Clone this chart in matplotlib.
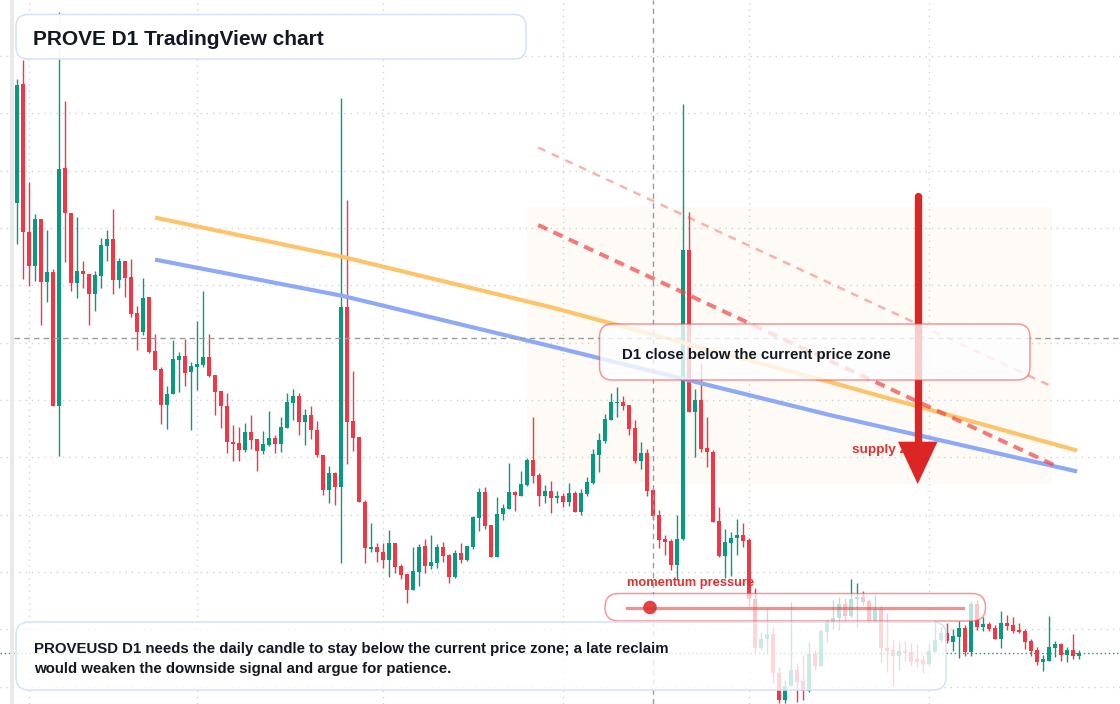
import numpy as np
import matplotlib
matplotlib.use('Agg')
import matplotlib.pyplot as plt
from matplotlib.patches import FancyBboxPatch, Rectangle, Polygon, Circle

plt.rcParams['font.family'] = ['Liberation Sans', 'DejaVu Sans']

# daily candles (PROVEUSD D1)
opens = [
    1.1967, 1.316, 1.1677, 1.1343, 1.181, 1.1183, 1.1277, 0.9943, 1.232, 1.1867,
    1.1167, 1.129, 1.1257, 1.1063, 1.1243, 1.1543, 1.161, 1.1203, 1.139, 1.123,
    1.087, 1.0683, 1.103, 1.049, 1.031, 0.995, 1.0057, 1.04, 1.044, 1.0279,
    1.0331, 1.0348, 1.0427, 1.0252, 1.0087, 0.9935, 0.9581, 0.9568, 0.9499, 0.9678,
    0.9609, 0.9489, 0.9551, 0.9619, 0.9557, 0.9722, 0.997, 1.0038, 0.9781, 0.9846,
    0.9695, 0.9454, 0.9104, 0.9265, 0.9128, 1.0925, 0.9788, 0.9626, 0.8984, 0.8513,
    0.8527, 0.8477, 0.8403, 0.857, 0.834, 0.826, 0.81, 0.8283, 0.854, 0.8343,
    0.837, 0.853, 0.845, 0.8233, 0.847, 0.8403, 0.853, 0.8823, 0.908, 0.875,
    0.8433, 0.8857, 0.8913, 0.908, 0.9043, 0.915, 0.94, 0.925, 0.9043, 0.909,
    0.9017, 0.9043, 0.8983, 0.9067, 0.8877, 0.906, 0.9167, 0.945, 0.959, 0.98,
    0.9967, 0.9983, 0.995, 0.9717, 0.9393, 0.9473, 0.91, 0.885, 0.8607, 0.859,
    0.835, 0.8607, 1.15, 0.9883, 1.0, 0.9517, 0.9477, 0.879, 0.8443, 0.8573,
    0.8617, 0.865, 0.86, 0.801, 0.7517, 0.7607, 0.766, 0.7267, 0.7, 0.714,
    0.73, 0.719, 0.709, 0.746, 0.7343, 0.7677, 0.7783, 0.7817, 0.796, 0.784,
    0.8007, 0.8033, 0.7993, 0.779, 0.791, 0.7517, 0.75, 0.744, 0.7493, 0.7477,
    0.741, 0.74, 0.7357, 0.7483, 0.76, 0.7673, 0.7583, 0.7633, 0.772, 0.7477,
    0.796, 0.7733, 0.776, 0.7717, 0.761, 0.7773, 0.775, 0.77, 0.769, 0.759,
    0.75, 0.7383, 0.7393, 0.752, 0.7557, 0.745, 0.75, 0.744]
highs = [
    1.3207, 1.34, 1.2177, 1.186, 1.181, 1.17, 1.131, 1.388, 1.299, 1.1867,
    1.183, 1.139, 1.1257, 1.129, 1.1617, 1.17, 1.191, 1.1417, 1.139, 1.141,
    1.0937, 1.1217, 1.103, 1.066, 1.033, 1.0143, 1.06, 1.0477, 1.061, 1.0382,
    1.0795, 1.1093, 1.0657, 1.0252, 1.0087, 1.0073, 0.9746, 0.9729, 0.9774, 0.985,
    0.9609, 0.9688, 0.9891, 0.9654, 0.9832, 1.0073, 1.0114, 1.0066, 0.9908, 0.9942,
    0.9788, 0.9454, 0.9344, 0.9282, 1.3021, 1.1997, 1.0286, 0.9626, 0.9, 0.8773,
    0.8573, 0.8573, 0.87, 0.857, 0.836, 0.826, 0.8533, 0.856, 0.8613, 0.865,
    0.856, 0.858, 0.846, 0.85, 0.857, 0.854, 0.884, 0.9117, 0.9127, 0.875,
    0.9027, 0.896, 0.9373, 0.9093, 0.929, 0.9423, 0.9827, 0.927, 0.915, 0.919,
    0.909, 0.9067, 0.9167, 0.9093, 0.9107, 0.9227, 0.951, 0.9667, 0.986, 1.0073,
    1.0133, 1.004, 0.995, 0.98, 0.9583, 0.951, 0.9117, 0.89, 0.865, 0.8607,
    0.885, 1.296, 1.1883, 1.0107, 1.0367, 0.9833, 0.95, 0.8927, 0.871, 0.8683,
    0.881, 0.8767, 0.8623, 0.8117, 0.768, 0.7917, 0.7733, 0.7333, 0.72, 0.7983,
    0.7367, 0.745, 0.7577, 0.75, 0.7713, 0.7813, 0.8, 0.8033, 0.8017, 0.821,
    0.8173, 0.809, 0.8007, 0.805, 0.795, 0.7867, 0.76, 0.7583, 0.7593, 0.7573,
    0.756, 0.745, 0.7567, 0.78, 0.7733, 0.7773, 0.7707, 0.7793, 0.775, 0.7993,
    0.8, 0.7833, 0.7783, 0.7747, 0.789, 0.785, 0.7833, 0.7773, 0.7707, 0.7607,
    0.7527, 0.745, 0.784, 0.7593, 0.7567, 0.7527, 0.766, 0.75]
lows = [
    1.1557, 1.1213, 1.1143, 1.1193, 1.075, 1.0983, 0.9943, 0.9443, 1.1383, 1.1093,
    1.1023, 1.1123, 1.075, 1.0893, 1.1117, 1.1393, 1.1063, 1.1123, 1.1033, 1.0833,
    1.0503, 1.065, 1.047, 1.0297, 0.9763, 0.9713, 1.0057, 1.0083, 1.0143, 0.9695,
    1.01, 1.0331, 1.0227, 0.985, 0.9722, 0.9472, 0.9392, 0.9386, 0.9482, 0.9513,
    0.9293, 0.9461, 0.954, 0.9472, 0.9482, 0.9722, 0.9798, 0.965, 0.955, 0.9609,
    0.943, 0.9052, 0.8973, 0.8949, 0.8365, 0.9361, 0.9489, 0.8984, 0.8367, 0.8483,
    0.8383, 0.8323, 0.8227, 0.8273, 0.8213, 0.7967, 0.81, 0.8143, 0.8273, 0.8313,
    0.8323, 0.8383, 0.8173, 0.8223, 0.8373, 0.8393, 0.8513, 0.869, 0.8707, 0.8433,
    0.8433, 0.88, 0.8907, 0.8893, 0.9043, 0.914, 0.9173, 0.8943, 0.8973, 0.8867,
    0.8973, 0.8933, 0.894, 0.8883, 0.885, 0.904, 0.9157, 0.9283, 0.9567, 0.98,
    0.9833, 0.99, 0.965, 0.9367, 0.931, 0.904, 0.88, 0.8517, 0.845, 0.83,
    0.82, 0.86, 0.9883, 0.9433, 0.948, 0.9333, 0.8783, 0.8427, 0.8217, 0.8243,
    0.845, 0.8533, 0.7927, 0.7467, 0.75, 0.7467, 0.7167, 0.6967, 0.6967, 0.714,
    0.6983, 0.7, 0.7083, 0.73, 0.7343, 0.7583, 0.7707, 0.77, 0.7793, 0.7833,
    0.7733, 0.795, 0.7783, 0.7783, 0.7383, 0.7283, 0.714, 0.73, 0.7393, 0.734,
    0.7333, 0.7267, 0.735, 0.7483, 0.7583, 0.7573, 0.7493, 0.7423, 0.7443, 0.7443,
    0.77, 0.7693, 0.7693, 0.761, 0.7517, 0.77, 0.7673, 0.7667, 0.7507, 0.744,
    0.735, 0.7293, 0.7393, 0.7433, 0.7393, 0.7383, 0.7407, 0.7407]
closes = [
    1.315, 1.1677, 1.1343, 1.181, 1.1183, 1.1277, 0.9943, 1.231, 1.1867, 1.1167,
    1.129, 1.1257, 1.1063, 1.125, 1.155, 1.161, 1.1203, 1.139, 1.1223, 1.0863,
    1.0683, 1.1023, 1.0483, 1.0303, 0.995, 1.006, 1.041, 1.044, 1.0273, 1.0337,
    1.0355, 1.0427, 1.0238, 1.008, 0.9935, 0.9575, 0.9557, 0.9499, 0.9678, 0.9602,
    0.9489, 0.9557, 0.9619, 0.9557, 0.9729, 0.9977, 1.0038, 0.9781, 0.9846, 0.9695,
    0.9454, 0.9104, 0.9265, 0.9128, 1.0925, 0.9781, 0.9619, 0.8984, 0.8517, 0.8533,
    0.8477, 0.8403, 0.857, 0.8333, 0.825, 0.81, 0.829, 0.8533, 0.8343, 0.8377,
    0.853, 0.8443, 0.8233, 0.847, 0.8403, 0.854, 0.883, 0.908, 0.874, 0.8433,
    0.886, 0.8917, 0.908, 0.9047, 0.916, 0.94, 0.9243, 0.9043, 0.909, 0.9017,
    0.9043, 0.8983, 0.9067, 0.8883, 0.9067, 0.9177, 0.946, 0.96, 0.981, 0.9983,
    0.9983, 0.994, 0.971, 0.9393, 0.9473, 0.909, 0.8843, 0.86, 0.8583, 0.835,
    0.8607, 1.15, 0.9883, 1.0, 0.951, 0.9477, 0.8783, 0.8443, 0.8577, 0.8617,
    0.865, 0.8593, 0.8007, 0.7517, 0.761, 0.766, 0.7267, 0.7, 0.714, 0.73,
    0.7183, 0.709, 0.746, 0.7343, 0.769, 0.779, 0.7817, 0.796, 0.784, 0.801,
    0.8033, 0.7983, 0.779, 0.791, 0.7517, 0.7493, 0.7443, 0.7493, 0.7473, 0.7383,
    0.7383, 0.7357, 0.749, 0.76, 0.7673, 0.759, 0.764, 0.772, 0.7477, 0.796,
    0.7733, 0.776, 0.7707, 0.761, 0.7773, 0.7743, 0.7693, 0.768, 0.7583, 0.7493,
    0.7383, 0.7407, 0.7527, 0.7557, 0.745, 0.75, 0.744, 0.7473]

# month starts (candle index) for the time grid
month_starts = [2, 30, 61, 91, 122, 152]

# drawings on the chart (candle index, price)
orange_idx = [23.3, 54.3, 88.8, 135.4, 176.3]
orange_px = [1.182, 1.143, 1.093, 1.018, 0.950]
blue_idx = [23.3, 54.3, 88.8, 135.4, 176.3]
blue_px = [1.140, 1.104, 1.054, 0.985, 0.929]
dash_strong = ([86.8, 172.95], [1.175, 0.9345])
dash_light = ([86.8, 172.45], [1.2525, 1.0135])
zone_idx = (84.95, 172.45)
zone_px = (0.916, 1.193)
cross_idx = 106
cross_px = 1.0615

up = '#089981'
down = '#f23645'

fig = plt.figure(figsize=(11.2, 7.04), dpi=100)
ax = fig.add_axes([0, 0, 1, 1])
ax.set_xlim(-2.883, 183.78)
ax.set_ylim(0.696, 1.4)
ax.axis('off')

o = np.array(opens)
h = np.array(highs)
l = np.array(lows)
c = np.array(closes)
idx = np.arange(len(o))
cols = np.where(c >= o, up, down)

# supply zone shading
ax.add_patch(Rectangle((zone_idx[0], zone_px[0]), zone_idx[1] - zone_idx[0],
                       zone_px[1] - zone_px[0], facecolor='#fefaf6',
                       edgecolor='none', zorder=0))

# dotted grid
for g in np.arange(1.344, 0.69, -0.05733):
    ax.axhline(g, color='#d2d2d2', lw=1.0, ls=(0, (1, 3.5)), zorder=1)
for m in month_starts:
    ax.axvline(m, color='#d2d2d2', lw=1.0, ls=(0, (1, 3.5)), zorder=1)

# candles
ax.vlines(idx, l, h, colors=cols, lw=1.0, zorder=2)
body = np.maximum(np.abs(c - o), 0.0012)
ax.bar(idx, body, bottom=np.minimum(o, c), width=0.72, color=cols, lw=0, zorder=3)

# trend drawings
ax.plot(orange_idx, orange_px, color='#fdc46c', lw=3, zorder=4)
ax.plot(blue_idx, blue_px, color='#8eaaf6', lw=3, zorder=4)
ax.plot(*dash_strong, color='#ef4444', alpha=0.7, lw=2.9,
        ls=(0, (2.5, 1.7)), zorder=4)
ax.plot(*dash_light, color='#ef4444', alpha=0.4, lw=1.8,
        ls=(0, (3.2, 2.8)), zorder=4)

# crosshair and last price line
ax.axvline(cross_idx, color='#9b9b9b', lw=1, ls=(0, (4, 3)), zorder=5)
ax.axhline(cross_px, xmin=0.0125, color='#9b9b9b', lw=1, ls=(0, (4, 3)), zorder=5)
ax.axhline(c[-1], color=up, lw=1, ls=(0, (1, 2)), zorder=5)

# overlay in pixel units for labels and boxes
ov = fig.add_axes([0, 0, 1, 1], zorder=5)
ov.set_xlim(0, 1120)
ov.set_ylim(704, 0)
ov.axis('off')

ov.add_patch(Rectangle((10, 0), 4, 704, fc='#e9e9e9', ec='none', zorder=0))

red = '#e03131'
ov.text(851.5, 452.7, 'supply zone', color=red, fontsize=9.7,
        fontweight='bold', va='baseline', zorder=1)

# down arrow
ov.plot([917.7, 917.7], [196, 446], color='#dc2626', lw=5.3,
        solid_capstyle='round', zorder=2)
ov.add_patch(Polygon([[898, 441.7], [937.5, 441.7], [917.7, 484]],
                     closed=True, fc='#dc2626', ec='none', zorder=2))


def box(x0, y0, x1, y1, ec, alpha, r):
    ov.add_patch(FancyBboxPatch((x0, y0), x1 - x0, y1 - y0,
                                boxstyle='round,pad=0,rounding_size=%s' % r,
                                fc=(1, 1, 1, alpha), ec=ec, lw=1.1, zorder=3))


red_edge = (0.937, 0.267, 0.267, 0.55)
blue_edge = '#d3e2fa'
ink = '#131722'

box(16, 14.5, 526, 59, blue_edge, 0.95, 12)
ov.text(33, 44.8, 'PROVE D1 TradingView chart', fontsize=15,
        fontweight='bold', color=ink, va='baseline', zorder=6)

box(599.5, 324, 1030, 380, red_edge, 0.78, 13)
ov.text(622.3, 359.3, 'D1 close below the current price zone', fontsize=10.8,
        fontweight='bold', color=ink, va='baseline', zorder=6)

box(605, 593.5, 985.5, 621, red_edge, 0.72, 13.7)
ov.plot([627, 963], [607.5, 607.5], color='#ef4444', alpha=0.6, lw=2.3,
        zorder=4)
ov.add_patch(Circle((650, 607.5), 6.8, fc=red, ec='none', alpha=0.9, zorder=5))
ov.text(627, 586.3, 'momentum pressure', color=red, fontsize=9.3,
        fontweight='bold', va='baseline', zorder=5)

box(16, 622, 946, 690, blue_edge, 0.8, 13)
ov.text(34, 653.3, 'PROVEUSD D1 needs the daily candle to stay below the '
        'current price zone; a late reclaim', fontsize=10.8, fontweight='bold',
        color=ink, va='baseline', zorder=6)
ov.text(34, 673.3, 'would weaken the downside signal and argue for patience.',
        fontsize=10.8, fontweight='bold', color=ink, va='baseline', zorder=6)

fig.savefig('out.png', dpi=100)
